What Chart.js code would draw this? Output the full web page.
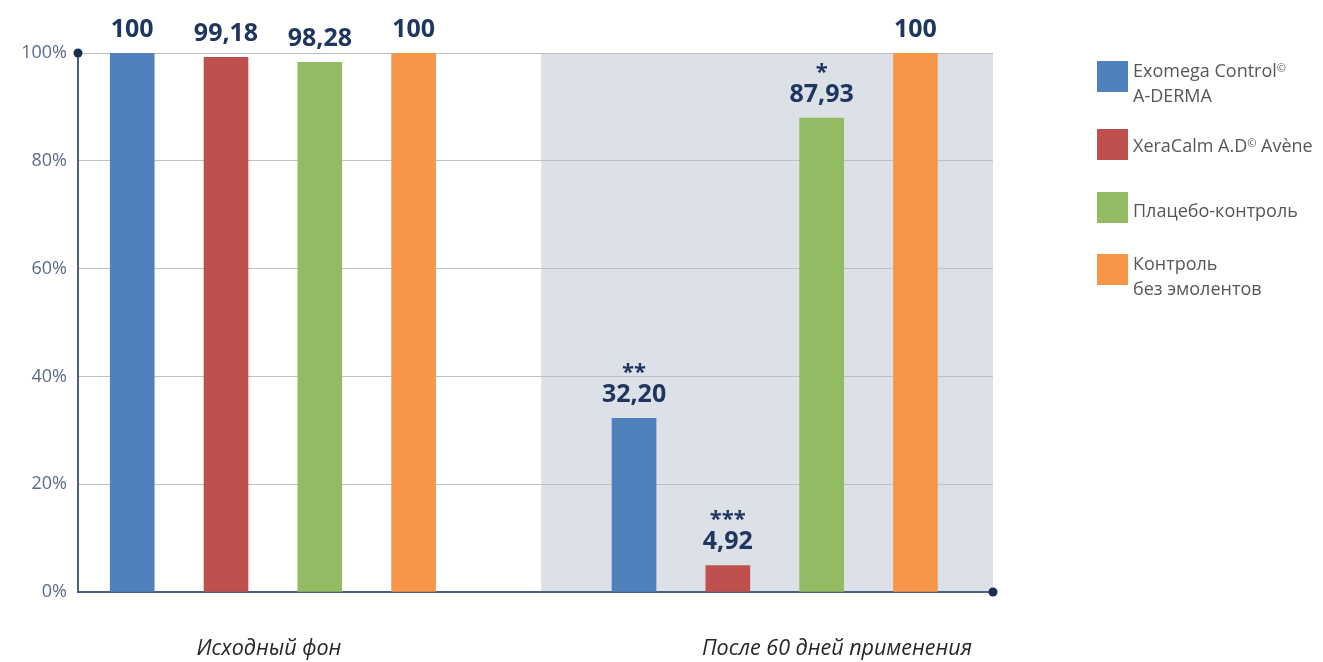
<!DOCTYPE html>
<html><head><meta charset="utf-8">
<script src="https://cdn.jsdelivr.net/npm/chart.js@4.4.1/dist/chart.umd.min.js"></script>
<style>
html,body{margin:0;padding:0;background:#fff;}
#wrap{position:relative;width:1323px;height:662px;overflow:hidden;}
#c{position:absolute;left:0;top:0;}
#legend{position:absolute;left:0;top:0;font-family:"Open Sans",sans-serif;font-size:18px;color:#575757;}
.sw{position:absolute;left:1097px;width:31px;height:31px;}
.tx{position:absolute;left:1133px;line-height:25px;white-space:nowrap;}
.tx sup{font-size:11px;vertical-align:top;position:relative;top:-3px;}
</style></head><body>
<div id="wrap"><canvas id="c" width="1323" height="662"></canvas><div id="legend"></div></div>
<script>
// ---- data ----
const categories = ['Исходный фон', 'После 60 дней применения'];
const seriesNames = [['Exomega Control©', 'A-DERMA'], ['XeraCalm A.D© Avène'], ['Плацебо-контроль'], ['Контроль', 'без эмолентов']];
const exomegaValues = [100, 32.20];
const xeracalmValues = [99.18, 4.92];
const placeboValues = [98.28, 87.93];
const controlValues = [100, 100];
const exomegaMarks = ['', '**'];
const xeracalmMarks = ['', '***'];
const placeboMarks = ['', '*'];
const controlMarks = ['', ''];
const yTickValues = [0, 20, 40, 60, 80, 100];

// ---- styles / layout ----
const seriesColors = ['#4f81bd', '#c0504d', '#93bb63', '#f79646'];
const allValues = [exomegaValues, xeracalmValues, placeboValues, controlValues];
const allMarks = [exomegaMarks, xeracalmMarks, placeboMarks, controlMarks];
const GROUP_STRIDE = 5.35;
const X_MIN = -0.578, X_MAX = 9.177;
const SHADE_FROM = 4.36;
const LABEL_POS = [1.458, 7.514];
const AXIS_COLOR = '#4d5f80';
const DOT_COLOR = '#1b2d52';
const VALUE_COLOR = '#1f3661';

const fmt = v => Number.isInteger(v) ? String(v) : v.toFixed(2).replace('.', ',');

const datasets = allValues.map((vals, s) => ({
  label: seriesNames[s].join(' '),
  data: vals.map((v, g) => ({x: g * GROUP_STRIDE + s, y: v})),
  backgroundColor: seriesColors[s],
  borderWidth: 0,
  barThickness: 44,
  grouped: false
}));

const shadePlugin = {
  id: 'shade',
  beforeDraw(chart) {
    const {ctx, chartArea, scales} = chart;
    const x0 = scales.x.getPixelForValue(SHADE_FROM);
    ctx.save();
    ctx.fillStyle = '#dce0e7';
    ctx.fillRect(x0, chartArea.top, chartArea.right - x0, chartArea.bottom - chartArea.top);
    ctx.restore();
  }
};

const labelPlugin = {
  id: 'vlabels',
  afterDatasetsDraw(chart) {
    const {ctx} = chart;
    ctx.save();
    ctx.fillStyle = VALUE_COLOR;
    ctx.textAlign = 'center';
    ctx.textBaseline = 'alphabetic';
    chart.data.datasets.forEach((ds, s) => {
      const meta = chart.getDatasetMeta(s);
      meta.data.forEach((el, g) => {
        const base = el.y - 16;
        ctx.font = 'bold 25px "Open Sans"';
        ctx.fillText(fmt(allValues[s][g]), el.x, base);
        const m = allMarks[s][g];
        if (m) {
          ctx.font = 'bold 22px "Open Sans"';
          ctx.fillText(m, el.x, base - 23);
        }
      });
    });
    ctx.restore();
  },
  afterDraw(chart) {
    const {ctx, chartArea} = chart;
    ctx.save();
    ctx.fillStyle = DOT_COLOR;
    ctx.beginPath(); ctx.arc(chartArea.left, chartArea.top, 4.5, 0, Math.PI * 2); ctx.fill();
    ctx.beginPath(); ctx.arc(chartArea.right, chartArea.bottom, 4.5, 0, Math.PI * 2); ctx.fill();
    ctx.restore();
  }
};

new Chart(document.getElementById('c'), {
  type: 'bar',
  data: {datasets},
  plugins: [shadePlugin, labelPlugin],
  options: {
    responsive: false,
    animation: false,
    layout: {padding: {top: 53, right: 330, left: 0, bottom: 0}},
    plugins: {legend: {display: false}, tooltip: {enabled: false}},
    scales: {
      x: {
        type: 'linear', min: X_MIN, max: X_MAX, offset: false,
        afterBuildTicks: sc => { sc.ticks = LABEL_POS.map(v => ({value: v})); },
        afterFit: sc => { sc.height = 70; },
        grid: {display: true, offset: false, drawOnChartArea: false, drawTicks: false, color: 'transparent'},
        border: {display: true, color: AXIS_COLOR, width: 2},
        ticks: {
          autoSkip: false, maxRotation: 0, padding: 44,
          color: '#262626',
          font: {family: 'Open Sans', size: 21.5, style: 'italic'},
          callback: (v, i) => categories[i]
        }
      },
      y: {
        min: 0, max: 100,
        afterBuildTicks: sc => { sc.ticks = yTickValues.map(v => ({value: v})); },
        afterFit: sc => { sc.width = 78; },
        grid: {color: '#bfbfbf', lineWidth: 1, drawTicks: false},
        border: {display: true, color: AXIS_COLOR, width: 2},
        ticks: {
          padding: 11, color: '#5a6b8a',
          font: {family: 'Open Sans', size: 18},
          callback: v => v + '%'
        }
      }
    }
  }
});

// legend (HTML)
const legendTops = [[61, 57.5], [129, 132.5], [192, 197.5], [254, 250.5]];
const lg = document.getElementById('legend');
seriesNames.forEach((lines, s) => {
  const sw = document.createElement('div');
  sw.className = 'sw'; sw.style.top = legendTops[s][0] + 'px'; sw.style.background = seriesColors[s];
  lg.appendChild(sw);
  const tx = document.createElement('div');
  tx.className = 'tx'; tx.style.top = legendTops[s][1] + 'px';
  tx.innerHTML = lines.map(l => l.replace('©', '<sup>©</sup>')).join('<br>');
  lg.appendChild(tx);
});
</script>
</body></html>
